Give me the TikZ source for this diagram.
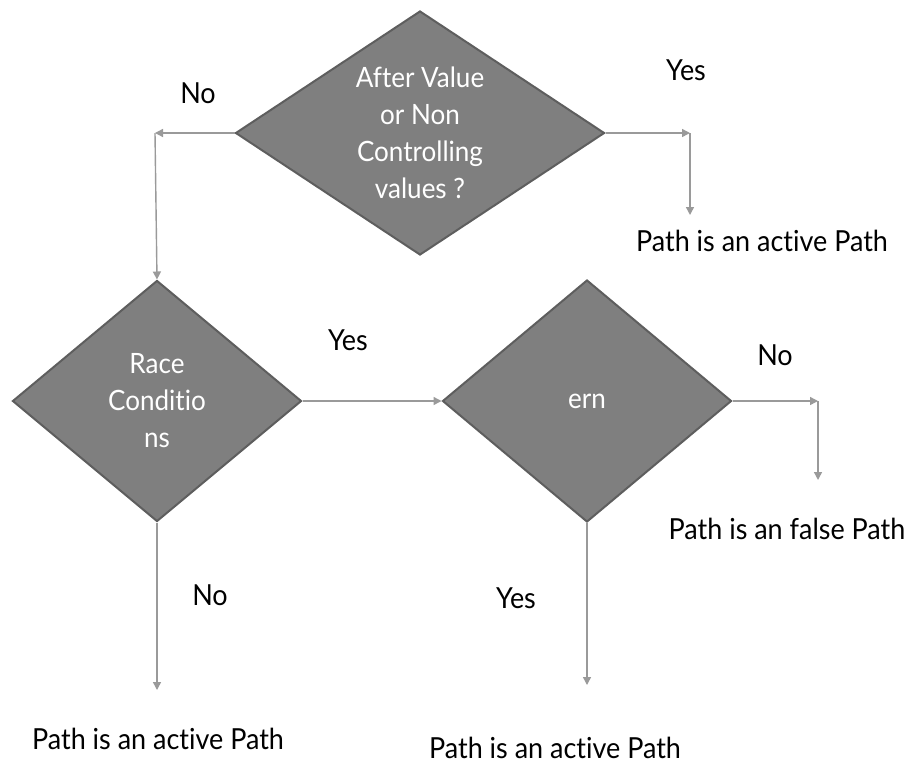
\documentclass[tikz,border=0pt]{standalone}
\usepackage{fontspec}
\setmainfont{Lato}[Ligatures={NoCommon,NoRare},FakeStretch=0.93]
\usetikzlibrary{shapes.geometric,arrows.meta}
\definecolor{boxfill}{HTML}{7F7F7F}
\definecolor{boxline}{HTML}{5E5E5E}
\definecolor{wire}{HTML}{9A9A9A}
\begin{document}
\begin{tikzpicture}[x=1pt,y=-1pt,
  decision/.style={shape=diamond,fill=boxfill,draw=boxline,line width=2pt,
    inner sep=0pt,text=white,align=center,font=\fontsize{28}{37}\selectfont},
  label/.style={font=\fontsize{29}{32}\selectfont,text=black,inner sep=0pt},
  arr/.style={draw=wire,line width=1.4pt,-{Triangle[width=8pt,length=8pt]}}]
\useasboundingbox (0,0) rectangle (909,763);
\fill[white] (0,0) rectangle (909,763);

% decisions
\node[decision,minimum width=369pt,minimum height=244pt,aspect=1.51] (q1) at (420,133)
  {After Value\\or Non\\Controlling\\values ?};
\node[decision,minimum width=289pt,minimum height=241pt,aspect=1.2] (race) at (157,401)
  {Race\\Conditio\\ns};
\node[decision,minimum width=289pt,minimum height=242pt,aspect=1.19] (ern) at (587,401)
  {ern};

% outcomes
\node[label] (act1) at (762,241) {Path is an active Path};
\node[label] (false) at (787,529) {Path is an false Path};
\node[label] (act2) at (158,739) {Path is an active Path};
\node[label] (act3) at (555,748) {Path is an active Path};

% branch labels
\node[label] (no1) at (198,93) {No};
\node[label] (yes1) at (686,70) {Yes};
\node[label] (yes2) at (348,340) {Yes};
\node[label] (no2) at (775,355) {No};
\node[label] (no3) at (210,595) {No};
\node[label] (yes3) at (516,598) {Yes};

% bend points and arrow ends
\coordinate (bl) at (155,133);
\coordinate (br) at (690,133);
\coordinate (br2) at (818,401);
\coordinate (e1) at (690,215);
\coordinate (e2) at (818,480);
\coordinate (e3) at (157,690);
\coordinate (e4) at (587,685);

% connectors
\draw[arr] (q1.west) -- (bl);
\draw[arr] (bl) -- (race.north);
\draw[arr] (q1.east) -- (br);
\draw[arr] (br) -- (e1);
\draw[arr] (race.east) -- (ern.west);
\draw[arr] (ern.east) -- (br2);
\draw[arr] (br2) -- (e2);
\draw[arr] (race.south) -- (e3);
\draw[arr] (ern.south) -- (e4);
\end{tikzpicture}
\end{document}
